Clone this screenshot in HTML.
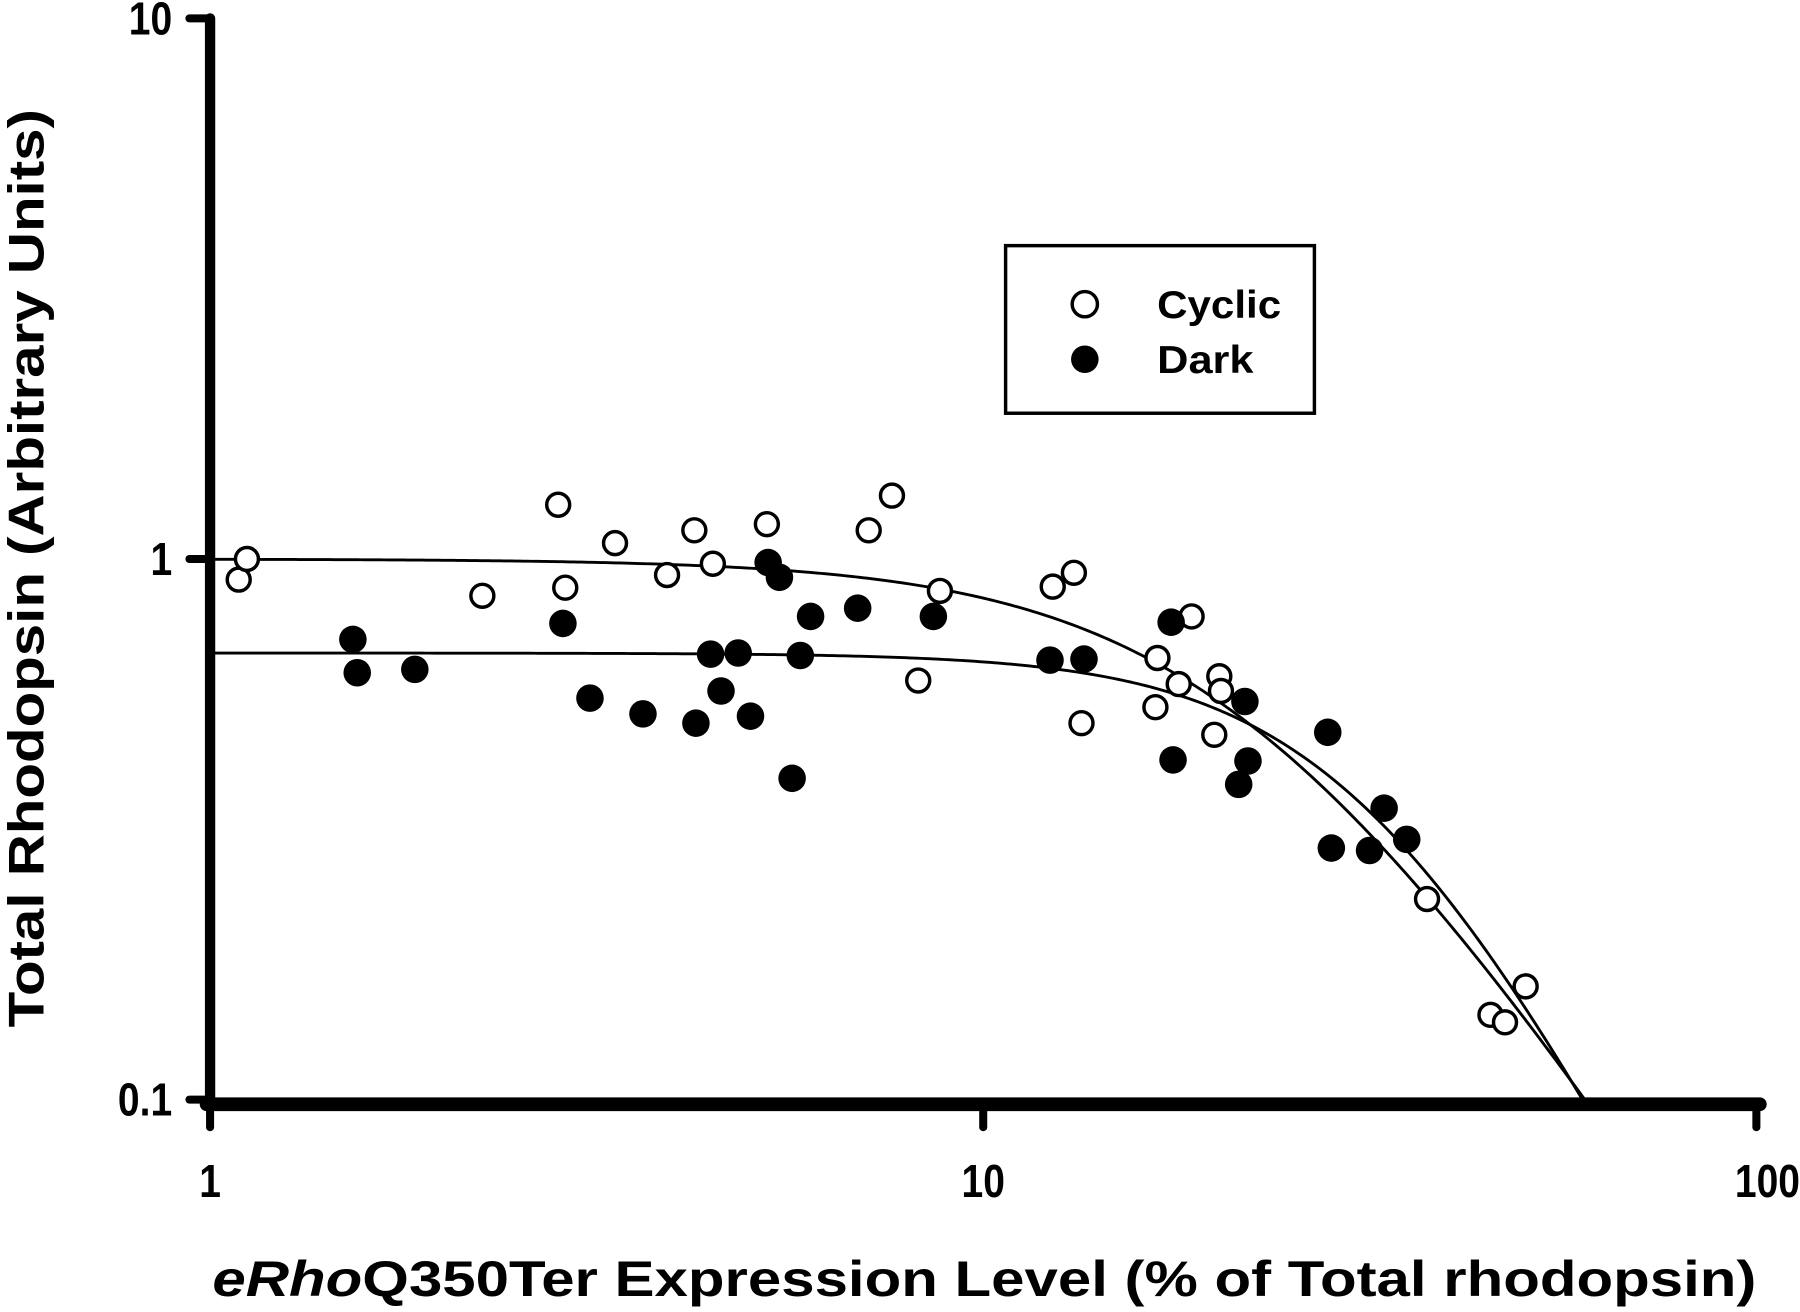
<!DOCTYPE html>
<html><head><meta charset="utf-8"><style>
html,body{margin:0;padding:0;background:#fff;width:1800px;height:1312px;overflow:hidden}
svg{display:block}
text{font-family:"Liberation Sans",sans-serif;font-weight:bold;fill:#000}
</style></head><body>
<svg id="chart" width="1800" height="1312" viewBox="0 0 1568 1143" preserveAspectRatio="none" xmlns="http://www.w3.org/2000/svg">
<g id="axes"></g>
<g id="curves"></g>
<g id="points"></g>
<g>
<rect x="876" y="214" width="269" height="146" fill="#fff" stroke="#000" stroke-width="3"/>
<circle cx="945" cy="265" r="11" fill="#fff" stroke="#000" stroke-width="3"/>
<text x="1008" y="277" font-size="34" textLength="108" lengthAdjust="spacingAndGlyphs">Cyclic</text>
<circle cx="945" cy="313" r="12" fill="#000"/>
<text x="1008" y="325" font-size="34" textLength="84" lengthAdjust="spacingAndGlyphs">Dark</text>
</g>
<text x="185" y="1129" font-size="44" textLength="1345" lengthAdjust="spacingAndGlyphs"><tspan font-style="italic">eRho</tspan>Q350Ter Expression Level (% of Total rhodopsin)</text>
<text transform="translate(38,895) rotate(-90)" font-size="44" textLength="800" lengthAdjust="spacingAndGlyphs">Total Rhodopsin (Arbitrary Units)</text>
</svg>
<script>
const xTicks=[1,10,100];
const xTickLabels=["1","10","100"];
const yTicks=[0.1,1,10];
const yTickLabels=["0.1","1","10"];
const cyclicX=[1.089,1.116,2.25,2.82,2.88,3.34,3.90,4.23,4.47,5.25,7.11,7.62,8.79,8.24,12.3,13.1,13.4,16.8,16.7,17.9,18.6,20.2,20.3,19.9,37.5,45.3,47.3,50.3];
const cyclicY=[0.916,1.0,0.855,1.26,0.885,1.07,0.934,1.13,0.98,1.16,1.13,1.31,0.873,0.596,0.889,0.943,0.497,0.656,0.532,0.587,0.783,0.607,0.570,0.473,0.235,0.1435,0.139,0.162];
const darkX=[1.53,1.55,1.84,2.86,3.10,3.63,4.25,4.44,4.58,4.82,5.00,5.27,5.45,5.66,5.80,5.98,6.88,8.62,12.2,13.5,17.5,17.6,21.4,21.8,22.0,27.9,28.2,31.6,33.0,35.3];
const darkY=[0.71,0.616,0.625,0.760,0.553,0.517,0.497,0.667,0.570,0.670,0.512,0.985,0.925,0.393,0.663,0.783,0.811,0.783,0.650,0.653,0.764,0.425,0.383,0.545,0.423,0.478,0.292,0.289,0.346,0.303];
const cyclicFit=[1.0,21.9,2.18];
const darkFit=[0.67,32,2.8];

const NS="http://www.w3.org/2000/svg";
const X0=183,XD=673.5,Y1=487,YD=471;
function sx(v){return X0+Math.log10(v)*XD;}
function sy(v){return Y1-Math.log10(v)*YD;}
function mk(tag,attrs,parent){const e=document.createElementNS(NS,tag);for(const k in attrs)e.setAttribute(k,attrs[k]);parent.appendChild(e);return e;}
const axes=document.getElementById('axes');
let l=mk('line',{x1:183,y1:16,x2:183,y2:962,stroke:'#000','stroke-width':9,'stroke-linecap':'round'},axes);


l=mk('line',{x1:180,y1:962,x2:1533,y2:962,stroke:'#000','stroke-width':12,'stroke-linecap':'round'},axes);


xTicks.forEach((v,i)=>{
 const x=sx(v);
 const t=mk('line',{x1:x,y1:962,x2:x,y2:982,stroke:'#000','stroke-width':7,'stroke-linecap':'round'},axes);
 
 
 const last=i==xTicks.length-1;
 const tx=mk('text',{x:last?x+38:x,y:1043,'font-size':40,'text-anchor':last?'end':'middle',transform:'translate('+(last?x+38:x)+',0) scale(0.85,1) translate('+(-(last?x+38:x))+',0)'},axes);
 tx.textContent=xTickLabels[i];
 
 
});
yTicks.forEach((v,i)=>{
 const y=sy(v);
 const t=mk('line',{x1:165,y1:y,x2:183,y2:y,stroke:'#000','stroke-width':7,'stroke-linecap':'round'},axes);
 
 
 const tx=mk('text',{x:150,y:y+14,'font-size':40,'text-anchor':'end',transform:'translate(150,0) scale(0.85,1) translate(-150,0)'},axes);
 tx.textContent=yTickLabels[i];
 
 
});
const curves=document.getElementById('curves');
function drawFit(p,name){
 let d='';
 for(let lx=0;lx<=2;lx+=0.005){
  const x=Math.pow(10,lx);const y=p[0]/(1+Math.pow(x/p[1],p[2]));
  if(y<0.1){const xe=p[1]*Math.pow(p[0]/0.1-1,1/p[2]);d+='L'+sx(xe)+','+sy(0.1);break;}
  d+=(d?'L':'M')+sx(x)+','+sy(y);
 }
 const e=mk('path',{d:d,fill:'none',stroke:'#000','stroke-width':2.5},curves);
 
 
}
drawFit(cyclicFit,'cyclic-fit-curve');
drawFit(darkFit,'dark-fit-curve');
const pts=document.getElementById('points');
cyclicX.forEach((x,i)=>{
 const c=mk('circle',{cx:sx(x),cy:sy(cyclicY[i]),r:10,fill:'#fff',stroke:'#000','stroke-width':3},pts);
 
 
});
darkX.forEach((x,i)=>{
 const c=mk('circle',{cx:sx(x),cy:sy(darkY[i]),r:12,fill:'#000'},pts);
 
 
});
</script>
</body></html>
